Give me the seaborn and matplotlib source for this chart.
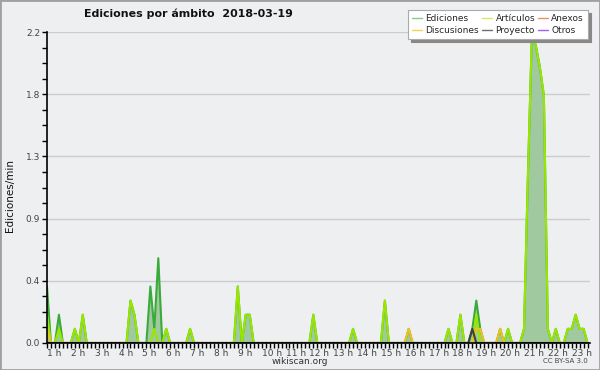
import numpy as np
import pandas as pd
import matplotlib
matplotlib.use("Agg")
import matplotlib.pyplot as plt
import seaborn as sns
from matplotlib.ticker import FixedLocator, MultipleLocator, AutoMinorLocator
from matplotlib.lines import Line2D
from matplotlib.patches import Rectangle

# ---- data: 10-minute bins, values in edits/min (only non-zero bins listed) ----
n_bins = 137
bins_per_hour = 6

ed_bins = [0, 3, 7, 9, 21, 22, 26, 27, 28, 30, 36, 48, 50, 51, 67, 77, 85, 91, 101, 104,
           107, 108, 109, 114, 116, 120, 121, 122, 123, 124, 125, 126, 128,
           131, 132, 133, 134, 135]
ed_vals = [0.4, 0.2, 0.1, 0.2, 0.3, 0.2, 0.4, 0.1, 0.6, 0.1, 0.1, 0.4, 0.2, 0.2, 0.2, 0.1, 0.3, 0.1, 0.1, 0.2,
           0.1, 0.3, 0.1, 0.1, 0.1, 0.1, 1.2, 2.2, 2.1, 1.95, 1.75, 0.1, 0.1,
           0.1, 0.1, 0.2, 0.1, 0.1]

art_bins = [0, 3, 7, 9, 21, 22, 27, 30, 36, 48, 50, 51, 67, 77, 85, 101, 104,
            108, 116, 120, 121, 122, 123, 124, 125, 126, 128,
            131, 132, 133, 134, 135]
art_vals = [0.2, 0.1, 0.1, 0.2, 0.3, 0.2, 0.1, 0.1, 0.1, 0.4, 0.2, 0.2, 0.2, 0.1, 0.3, 0.1, 0.2,
            0.2, 0.1, 0.1, 1.2, 2.2, 2.1, 1.95, 1.75, 0.1, 0.1,
            0.1, 0.1, 0.2, 0.1, 0.1]

disc_bins = [0, 91, 108, 109, 114]
disc_vals = [0.1, 0.1, 0.1, 0.1, 0.1]

proy_bins = [107]
proy_vals = [0.1]

anexos_bins = []
anexos_vals = []
otros_bins = []
otros_vals = []

series_names = ["Ediciones", "Artículos", "Anexos", "Discusiones", "Proyecto", "Otros"]
hour_labels = [f"{h + 1} h" for h in range(23)]
y_ticks = [0.0, 0.44, 0.88, 1.32, 1.76, 2.2]
title = "Ediciones por ámbito  2018-03-19"


def full_series(b, v):
    arr = np.zeros(n_bins)
    arr[b] = v
    return arr


t = np.arange(n_bins) / bins_per_hour
values = {
    "Ediciones": full_series(ed_bins, ed_vals),
    "Artículos": full_series(art_bins, art_vals),
    "Anexos": full_series(anexos_bins, anexos_vals),
    "Discusiones": full_series(disc_bins, disc_vals),
    "Proyecto": full_series(proy_bins, proy_vals),
    "Otros": full_series(otros_bins, otros_vals),
}
df = pd.concat([pd.DataFrame({"t": t, "v": values[s], "serie": s}) for s in series_names],
               ignore_index=True)

line_colors = {
    "Otros": "#9a40e0",
    "Anexos": "#f08040",
    "Ediciones": "#3aaa3a",
    "Artículos": "#99e600",
    "Discusiones": "#f0c020",
    "Proyecto": "#404040",
}
legend_colors = {
    "Ediciones": "#88cc88",
    "Artículos": "#ccee66",
    "Anexos": "#f09060",
    "Discusiones": "#f5d050",
    "Proyecto": "#707070",
    "Otros": "#a060f0",
}
bg = "#eeeff1"

sns.set_theme(style="white")
plt.rcParams["font.family"] = ["DejaVu Sans"]

fig = plt.figure(figsize=(6, 3.7), dpi=100, facecolor=bg)
ax = fig.add_axes([47 / 600, 1 - 343 / 370, 543 / 600, 311 / 370])
ax.set_facecolor(bg)

ax.fill_between(t, values["Ediciones"], color="#a0c9a0", zorder=1, linewidth=0)
draw_order = ["Otros", "Anexos", "Ediciones", "Artículos", "Discusiones", "Proyecto"]
sns.lineplot(data=df, x="t", y="v", hue="serie", hue_order=draw_order,
             palette=line_colors, legend=False, ax=ax, linewidth=1.5, zorder=2)

ax.set_xlim(0, 543 / 23.85)
ax.set_ylim(0, 2.2)

ax.yaxis.set_major_locator(FixedLocator(y_ticks))
ax.set_yticklabels([f"{v:.1f}" for v in y_ticks])
ax.yaxis.set_minor_locator(AutoMinorLocator(4))
ax.xaxis.set_major_locator(FixedLocator(list(range(23))))
ax.set_xticklabels(hour_labels)
for lab in ax.get_xticklabels():
    lab.set_horizontalalignment("left")
ax.xaxis.set_minor_locator(MultipleLocator(1 / 6))

ax.tick_params(axis="both", which="both", direction="out", length=3.5, width=1,
               color="black", labelsize=6.5, labelcolor="#444444", pad=1.5, left=True, bottom=True)
ax.tick_params(axis="x", pad=0.5)

ax.grid(axis="y", which="major", color="#cccccc", linewidth=1, zorder=0)
ax.set_axisbelow(True)
for s in ["top", "right"]:
    ax.spines[s].set_visible(False)
for s in ["left", "bottom"]:
    ax.spines[s].set_color("black")
    ax.spines[s].set_linewidth(1.2)
    ax.spines[s].set_zorder(5)

ax.set_xlabel("")
ax.set_ylabel("")
fig.text(10 / 600, 1 - 196 / 370, "Ediciones/min", rotation=90, ha="center", va="center",
         fontsize=7.5, color="#111111")
fig.text(188 / 600, 1 - 14 / 370, title, ha="center", va="center", fontsize=7.9,
         fontweight="bold", color="#111111")
fig.text(300 / 600, 1 - 361 / 370, "wikiscan.org", ha="center", va="center", fontsize=6.5,
         color="#333333")
fig.text(588 / 600, 1 - 361 / 370, "CC BY-SA 3.0", ha="right", va="center", fontsize=5,
         color="#444444")

handles_order = ["Ediciones", "Discusiones", "Artículos", "Proyecto", "Anexos", "Otros"]
handles = [Line2D([0], [0], color=legend_colors[s], lw=1) for s in handles_order]
leg = fig.legend(handles, handles_order, ncol=3, loc="upper right",
                 bbox_to_anchor=(588 / 600, 1 - 10 / 370), fontsize=6.5, frameon=True,
                 fancybox=False, shadow={"color": "#888888", "alpha": 1}, framealpha=1,
                 edgecolor="#aaaaaa",
                 handlelength=1.1, handletextpad=0.4, columnspacing=0.3,
                 labelspacing=0.35, borderpad=0.45, borderaxespad=0)
leg.get_frame().set_facecolor("white")
leg.get_frame().set_linewidth(0.8)

fig.patches.append(Rectangle((0, 0), 1, 1, transform=fig.transFigure, fill=False,
                             edgecolor="#a0a0a0", linewidth=2))

fig.savefig("out.png", dpi=100, facecolor=bg)
